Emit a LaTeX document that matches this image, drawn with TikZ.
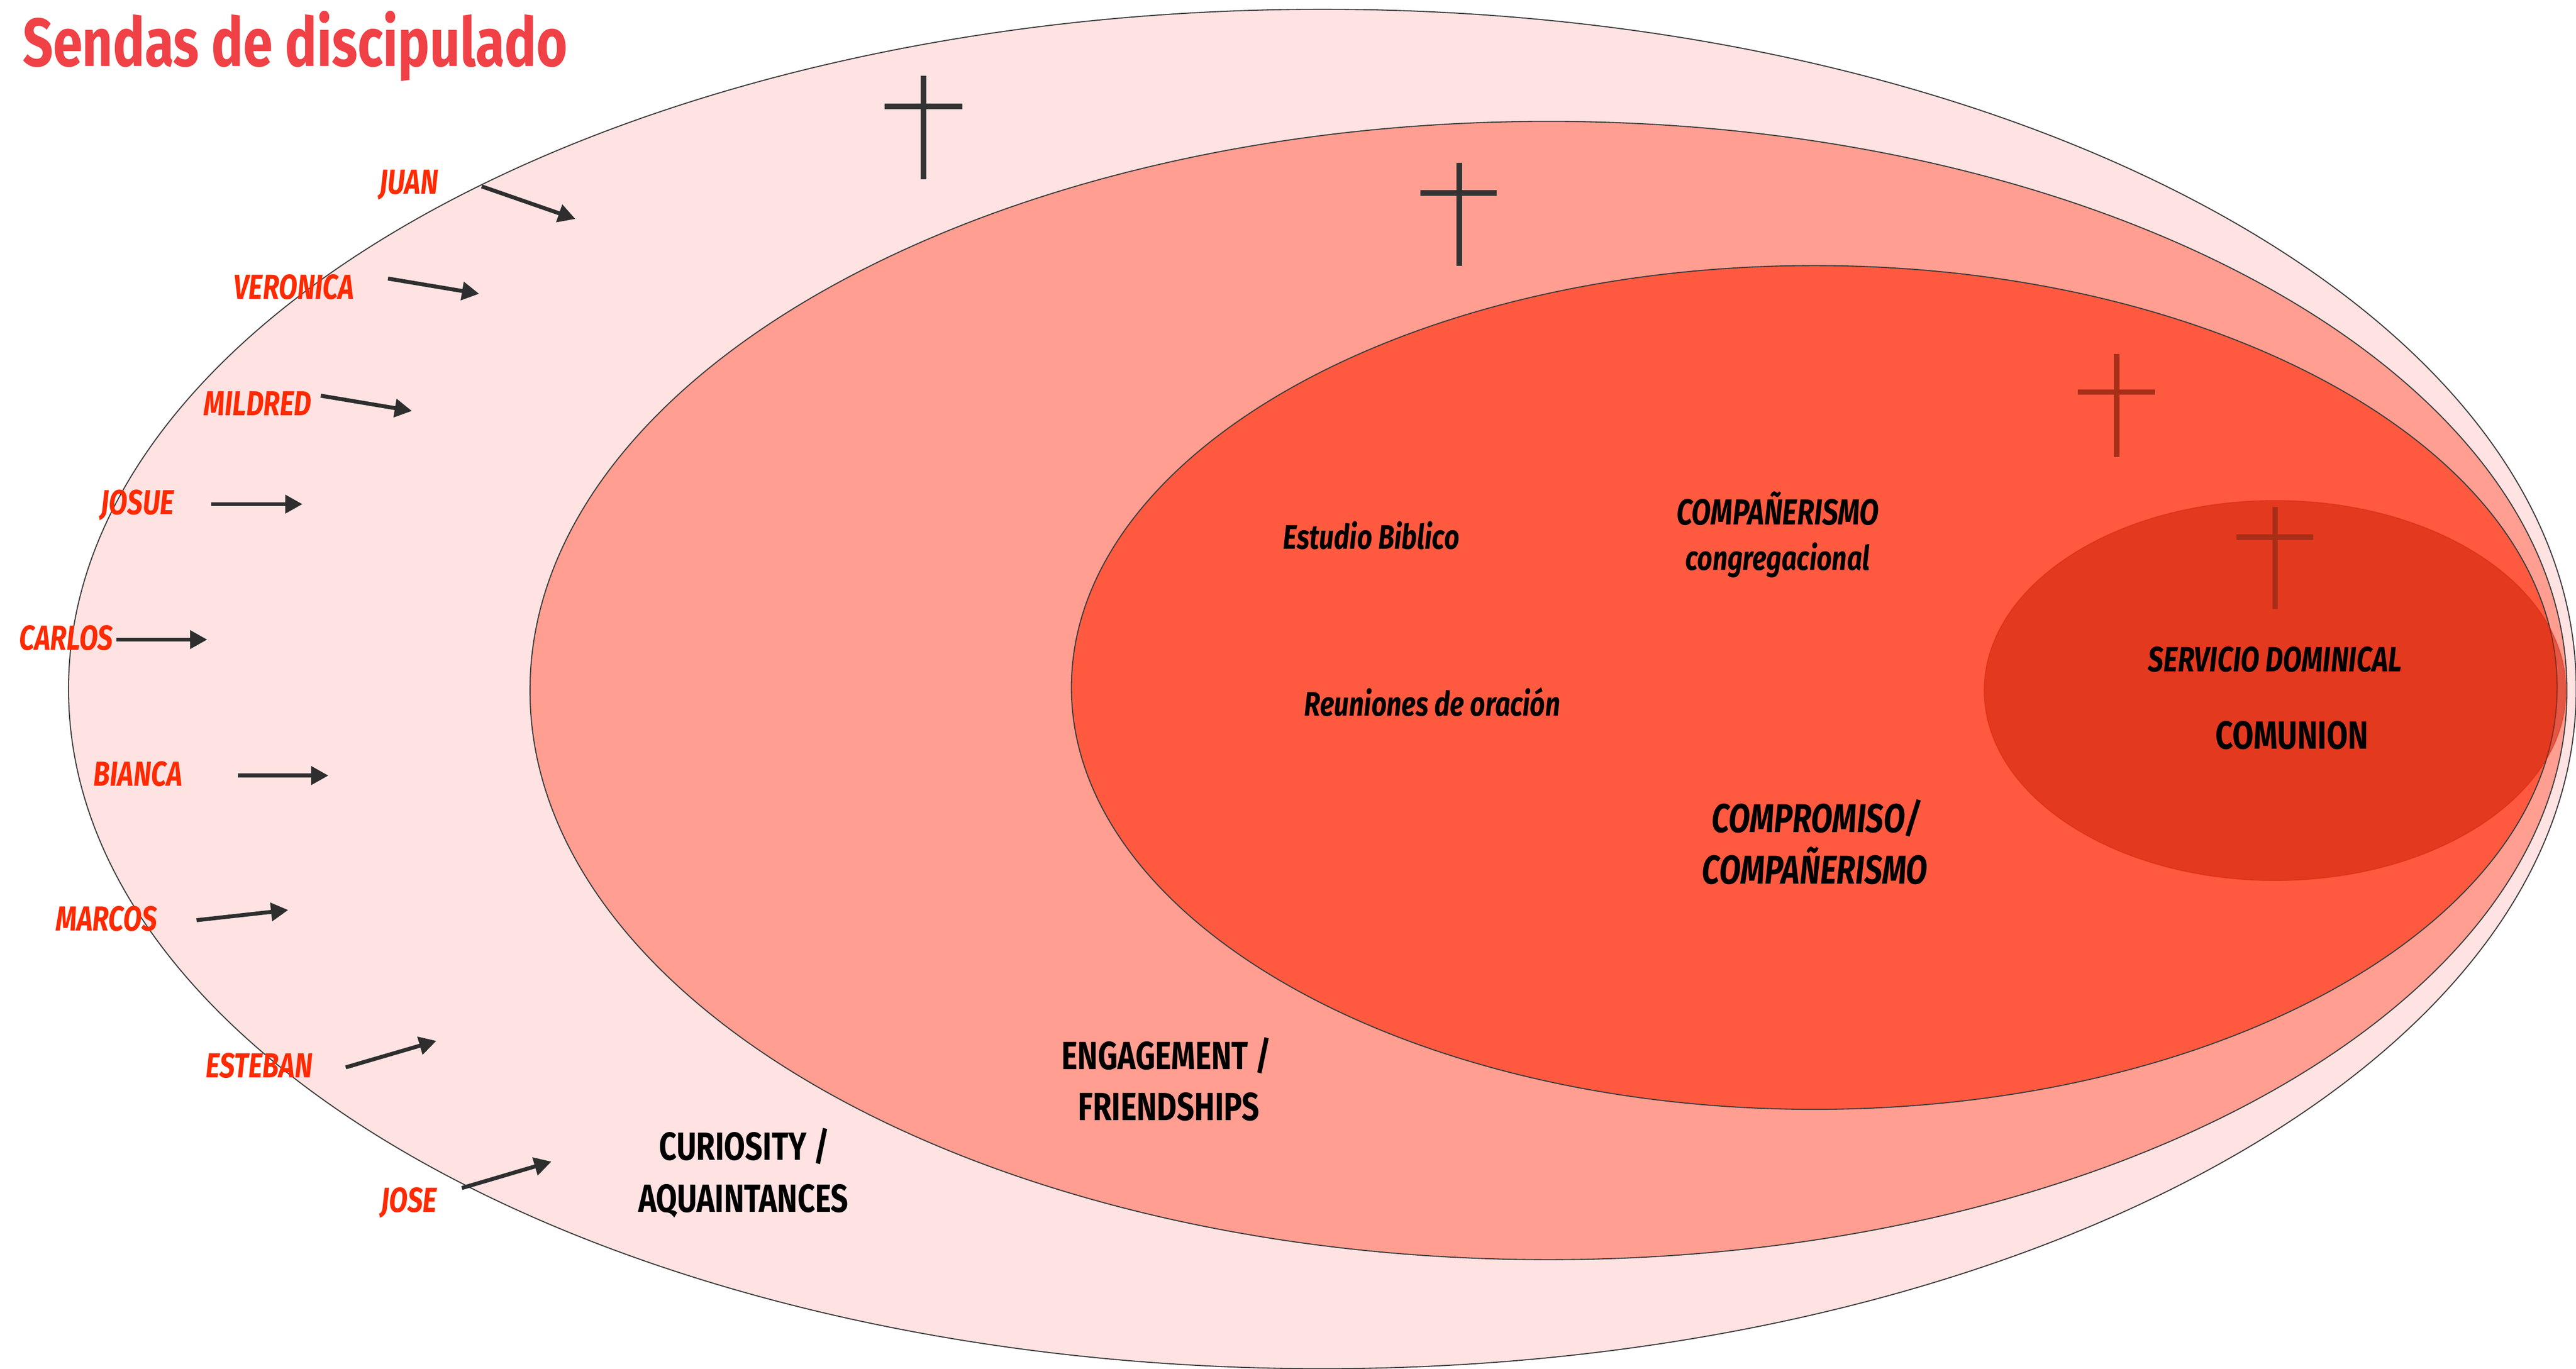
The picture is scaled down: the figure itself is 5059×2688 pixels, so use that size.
\documentclass[tikz,border=0pt]{standalone}
\usepackage{fontspec}
\setmainfont[FakeStretch=0.78]{Fira Sans}
\usetikzlibrary{arrows.meta}
\definecolor{outerfill}{HTML}{FFE2E2}
\definecolor{engfill}{HTML}{FF9E91}
\definecolor{compfill}{HTML}{FF5A40}
\definecolor{comfill}{RGB}{205,30,5}
\definecolor{edgegray}{HTML}{3C3C3C}
\definecolor{namered}{HTML}{FF2A00}
\definecolor{titlered}{HTML}{EF4146}
\definecolor{arrowgray}{HTML}{2E2E2E}
\definecolor{crossgray}{HTML}{333333}
\definecolor{crossred}{HTML}{A82E18}
\begin{document}
\begin{tikzpicture}[x=0.01cm,y=-0.01cm,
  zone/.style={draw=edgegray, line width=0.6pt},
  namelbl/.style={text=namered, inner sep=0pt, anchor=base, font=\fontsize{19.4}{22}\selectfont\bfseries\itshape},
  stagelbl/.style={inner sep=0pt, anchor=base, font=\fontsize{21.9}{26}\selectfont\bfseries},
  actlbl/.style={inner sep=0pt, anchor=base, font=\fontsize{19}{22}\selectfont\bfseries\itshape},
  smallact/.style={inner sep=0pt, anchor=base, font=\fontsize{20.2}{24}\selectfont\bfseries\itshape},
  servlbl/.style={inner sep=0pt, anchor=base, font=\fontsize{19.6}{23}\selectfont\bfseries\itshape},
  bigact/.style={inner sep=0pt, anchor=base, font=\fontsize{22.5}{27}\selectfont\bfseries\itshape},
  namearrow/.style={draw=arrowgray, line width=2.2pt, -{Triangle[length=9.6pt,width=10pt]}},
  crossline/.style={line width=3.1pt, line cap=butt}
]
\useasboundingbox (0,0) rectangle (5059,2688);

% zones
\fill[white] (0,0) rectangle (5059,2688);
\draw[zone, fill=outerfill] (2597,1353) ellipse [x radius=24.61cm, y radius=13.34cm];
\draw[zone, fill=engfill] (3041,1356) ellipse [x radius=19.99cm, y radius=11.17cm];
\draw[zone, fill=compfill] (3563,1350) ellipse [x radius=14.58cm, y radius=8.28cm];
\draw[draw=comfill, draw opacity=0.35, line width=0.6pt, fill=comfill, fill opacity=0.55] (4468,1356) ellipse [x radius=5.71cm, y radius=3.73cm];

% crosses
\draw[crossline, crossgray] (1814,149) -- (1814,352);
\draw[crossline, crossgray] (1737,209) -- (1890,209);
\draw[crossline, crossgray] (2866,320) -- (2866,522);
\draw[crossline, crossgray] (2789,379) -- (2939,379);
\draw[crossline, crossred] (4157,695) -- (4157,897);
\draw[crossline, crossred] (4081,770) -- (4232,770);
\draw[crossline, crossred] (4468,996) -- (4468,1196);
\draw[crossline, crossred] (4392,1055) -- (4543,1055);

% title
\node[inner sep=0pt, anchor=base west, text=titlered, font=\fontsize{38}{45}\selectfont\bfseries] (title) at (44,130) {Sendas de discipulado};

% names
\node[namelbl] (juan) at (803,381) {JUAN};
\node[namelbl] (veronica) at (577,587) {VERONICA};
\node[namelbl] (mildred) at (506,816) {MILDRED};
\node[namelbl] (josue) at (270,1010) {JOSUE};
\node[namelbl] (carlos) at (130,1276) {CARLOS};
\node[namelbl] (bianca) at (271,1543) {BIANCA};
\node[namelbl] (marcos) at (209,1828) {MARCOS};
\node[namelbl] (esteban) at (509,2116) {ESTEBAN};
\node[namelbl] (jose) at (803,2380) {JOSE};

% arrow ends
\coordinate (juanS) at (946,366);   \coordinate (juanE) at (1130,430);
\coordinate (veroS) at (762,547);   \coordinate (veroE) at (941,577);
\coordinate (mildS) at (630,777);   \coordinate (mildE) at (809,807);
\coordinate (josuS) at (415,990);   \coordinate (josuE) at (594,990);
\coordinate (carlS) at (229,1256);  \coordinate (carlE) at (407,1256);
\coordinate (biaS) at (467,1523);   \coordinate (biaE) at (645,1523);
\coordinate (marS) at (386,1807);   \coordinate (marE) at (566,1787);
\coordinate (estS) at (679,2096);   \coordinate (estE) at (857,2044);
\coordinate (joseS) at (907,2333);  \coordinate (joseE) at (1083,2281);
\draw[namearrow] (juanS) -- (juanE);
\draw[namearrow] (veroS) -- (veroE);
\draw[namearrow] (mildS) -- (mildE);
\draw[namearrow] (josuS) -- (josuE);
\draw[namearrow] (carlS) -- (carlE);
\draw[namearrow] (biaS) -- (biaE);
\draw[namearrow] (marS) -- (marE);
\draw[namearrow] (estS) -- (estE);
\draw[namearrow] (joseS) -- (joseE);

% stage labels
\node[stagelbl] (cur1) at (1462,2278) {CURIOSITY /};
\node[stagelbl] (cur2) at (1460,2380) {AQUAINTANCES};
\node[stagelbl] (eng1) at (2291,2100) {ENGAGEMENT /};
\node[stagelbl] (eng2) at (2295,2200) {FRIENDSHIPS};
\node[bigact] (comp1) at (3567,1635) {COMPROMISO/};
\node[bigact] (comp2) at (3564,1736) {COMPAÑERISMO};
\node[stagelbl] (comun) at (4501,1471) {COMUNION};

% activities
\node[actlbl] (estudio) at (2693,1078) {Estudio Biblico};
\node[smallact] (compa) at (3491,1031) {COMPAÑERISMO};
\node[actlbl] (congre) at (3491,1120) {congregacional};
\node[actlbl] (reun) at (2813,1406) {Reuniones de oración};
\node[servlbl] (serv) at (4468,1319) {SERVICIO DOMINICAL};
\end{tikzpicture}
\end{document}
